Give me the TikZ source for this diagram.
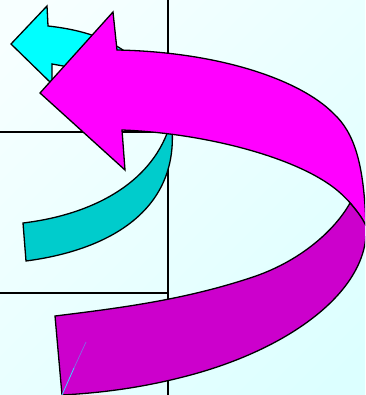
\documentclass[tikz,border=0pt]{standalone}
\definecolor{mag}{HTML}{FF00FF}
\definecolor{magdark}{HTML}{CC00CC}
\definecolor{cyanA}{HTML}{00FFFF}
\definecolor{cyanB}{HTML}{00CCCC}
\definecolor{bgA}{HTML}{F7FFFF}
\definecolor{bgB}{HTML}{DCFFFF}
\definecolor{streak}{HTML}{40D0FF}
\begin{document}
\begin{tikzpicture}[x=1pt,y=-1pt,
  outlined/.style={draw=black,line width=1.3pt,line join=miter},
  gridline/.style={draw=black,line width=2pt}]
\useasboundingbox (0,0) rectangle (365,395);
\clip (0,0) rectangle (365,395);
\shade[top color=bgA,bottom color=bgB,shading angle=45] (-50,-50) rectangle (415,445);
% grid lines
\draw[gridline] (168,-2) -- (168,397);
\draw[gridline] (-2,132) -- (168,132);
\draw[gridline] (-2,293) -- (168,293);
% cyan band
\path[outlined,fill=cyanB] (23,223) .. controls (90,215) and (150,185) .. (169,128)
  -- (172,128) .. controls (178,210) and (110,250) .. (26,261) -- cycle;
% cyan head
\path[outlined,fill=cyanA] (48,26) -- (47,6) -- (11,44) -- (52,84) -- (52,64) -- (63,66)
  -- (95,78) -- (135,75) -- (127,53) .. controls (110,40) and (85,30) .. (48,26) -- cycle;
% magenta light part
\path[outlined,fill=mag] (40,93) -- (113,12) -- (117,50)
  .. controls (220,52) and (300,80) .. (333,113)
  .. controls (355,133) and (364,165) .. (366,226)
  .. controls (358,210) and (345,196) .. (333,187)
  .. controls (290,155) and (200,133) .. (122,130) -- (125,170) -- cycle;
% magenta dark part
\path[outlined,fill=magdark] (55,316) .. controls (120,308) and (183,300) .. (250,278)
  .. controls (300,262) and (335,230) .. (350,203)
  .. controls (356,210) and (362,217) .. (366,226)
  .. controls (370,290) and (290,350) .. (183,377)
  .. controls (140,388) and (100,393) .. (62,395) -- cycle;
% streak
\draw[streak,line width=0.8pt] (62,395) -- (74,368);
\draw[streak!50!magdark,line width=0.7pt] (74,368) -- (86,342);
\end{tikzpicture}
\end{document}
